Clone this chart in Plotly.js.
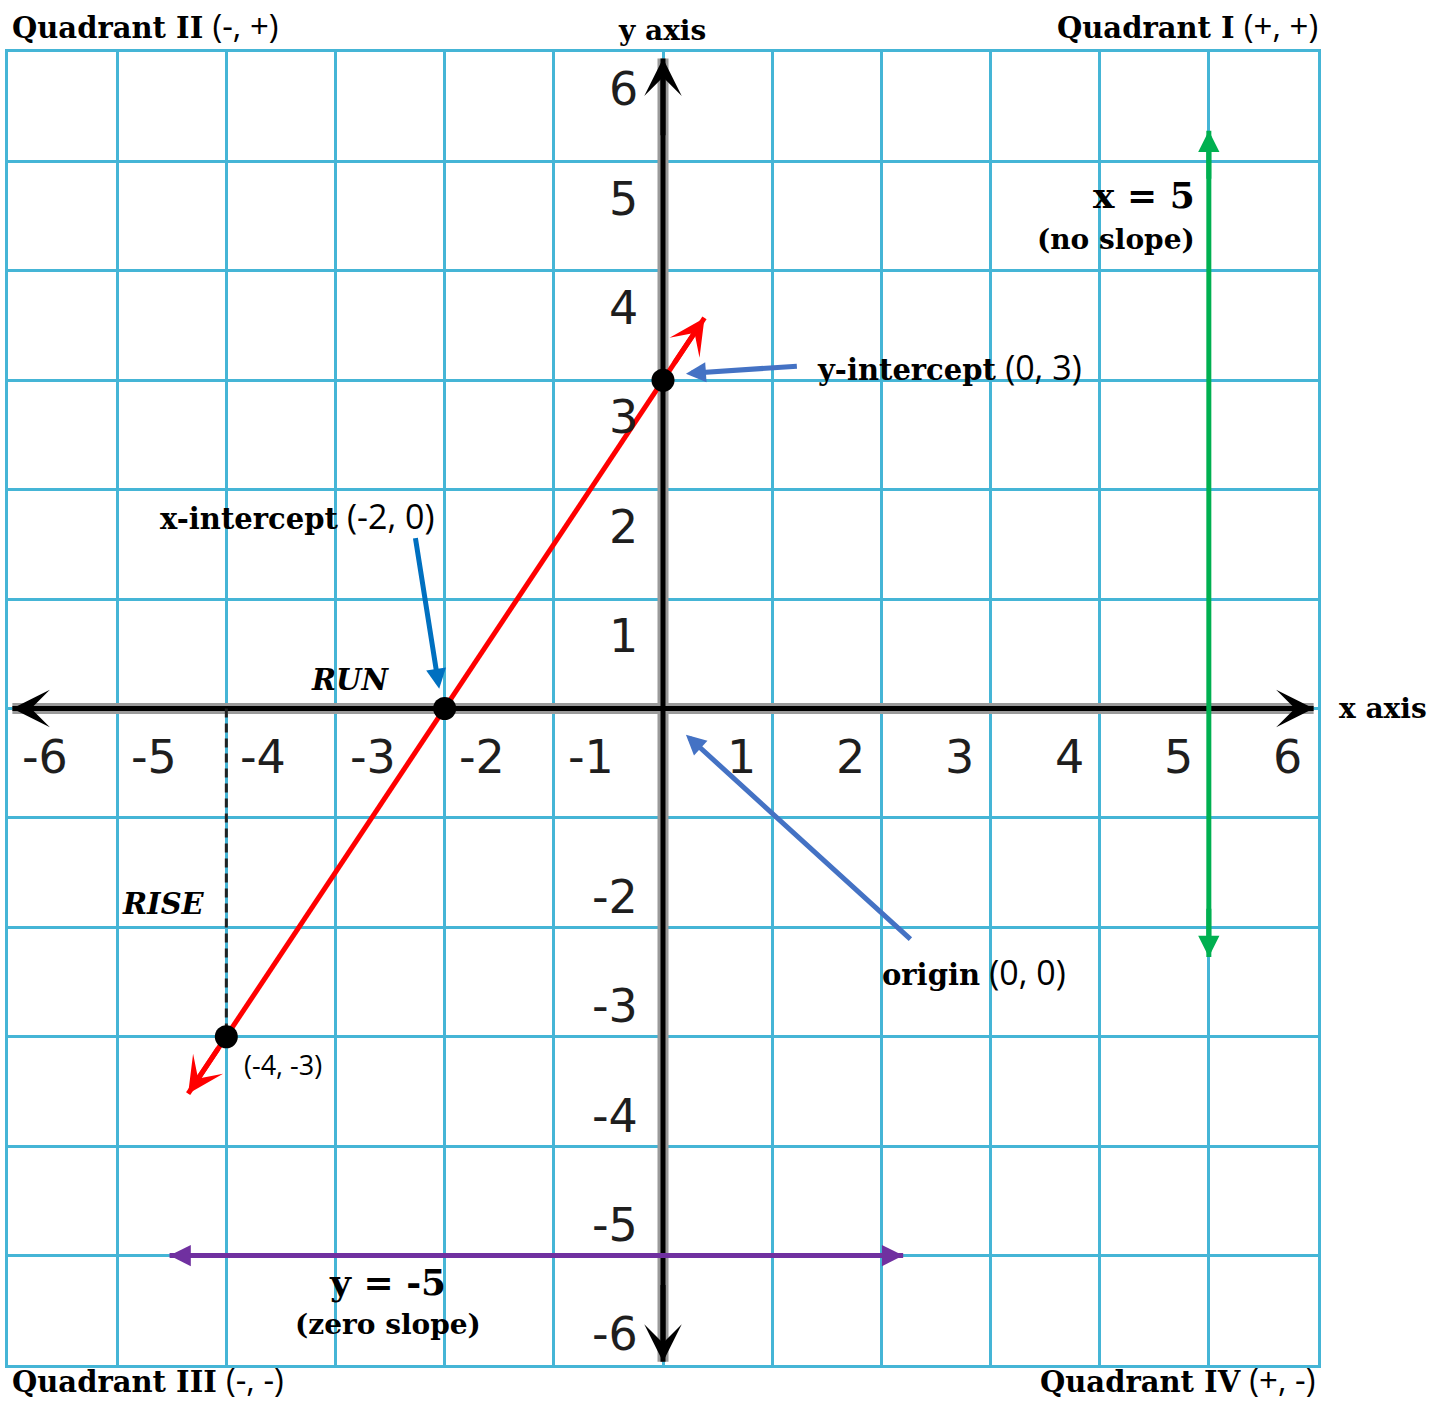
<!DOCTYPE html>
<html>
<head>
<meta charset="utf-8">
<script src="https://cdn.plot.ly/plotly-3.0.1.min.js"></script>
<style>body{margin:0;background:#fff}#chart{width:1430px;height:1403px}</style>
</head>
<body>
<div id="chart"></div>
<script>
// ---- data ----
const xTickVals = [-6, -5, -4, -3, -2, -1, 1, 2, 3, 4, 5, 6];
const xTickText = ['-6', '-5', '-4', '-3', '-2', '-1', '1', '2', '3', '4', '5', '6'];
const yTickVals = [6, 5, 4, 3, 2, 1, -2, -3, -4, -5, -6];
const yTickText = ['6', '5', '4', '3', '2', '1', '-2', '-3', '-4', '-5', '-6'];

const pointX = [0, -2, -4];
const pointY = [3, 0, -3];

const redX = [-4.35, 0.38];
const redY = [-3.52, 3.57];

const greenX = [5, 5];
const greenY = [-2.27, 5.28];

const purpleX = [-4.52, 2.2];
const purpleY = [-5, -5];

const dashX = [-4, -4];
const dashY = [0, -3];

const xAxisX = [-5.96, 5.96];
const xAxisY = [0, 0];
const yAxisX = [0, 0];
const yAxisY = [-5.97, 5.94];

// blue pointer arrows: [tailX, tailY, headX, headY]
const yIntArrow = [1.24, 3.13, 0.21, 3.06];
const xIntArrow = [-2.27, 1.57, -2.05, 0.18];
const originArrow = [2.28, -2.12, 0.21, -0.24];

// ---- styling ----
const serif = 'DejaVu Serif';
const sans = 'Open Sans';
const gridBlue = '#45b5d6';

function lineTrace(x, y, color, width, dash) {
  return {x: x, y: y, mode: 'lines', type: 'scatter', hoverinfo: 'skip',
          line: {color: color, width: width, dash: dash || 'solid'}};
}

const traces = [
  lineTrace(xAxisX, xAxisY, '#9a9a9a', 11),
  lineTrace(yAxisX, yAxisY, '#9a9a9a', 11),
  lineTrace(xAxisX, xAxisY, '#000', 5),
  lineTrace(yAxisX, yAxisY, '#000', 5),
  lineTrace(dashX, dashY, '#222', 3, '9px,6px'),
  lineTrace(greenX, greenY, '#00b050', 5),
  lineTrace(purpleX, purpleY, '#7030a0', 5),
  lineTrace(redX, redY, '#ff0000', 5),
  {x: pointX, y: pointY, mode: 'markers', type: 'scatter', hoverinfo: 'skip',
   marker: {color: '#000', size: 23}}
];

const ann = [];

// arrow heads at the ends of a segment
function heads(xs, ys, color, width, head, size) {
  const f = 0.06;
  [[1, 0], [0, 1]].forEach(function (p) {
    const e = p[0], s = p[1];
    ann.push({x: xs[e], y: ys[e], xref: 'x', yref: 'y', axref: 'x', ayref: 'y',
      ax: xs[e] - f * (xs[e] - xs[s]), ay: ys[e] - f * (ys[e] - ys[s]),
      text: '', showarrow: true, arrowhead: head, arrowsize: size,
      arrowwidth: width, arrowcolor: color});
  });
}
heads(xAxisX, xAxisY, '#000', 5, 3, 1.25);
heads(yAxisX, yAxisY, '#000', 5, 3, 1.25);
heads(redX, redY, '#ff0000', 5, 3, 1.2);
heads(greenX, greenY, '#00b050', 5, 2, 0.85);
heads(purpleX, purpleY, '#7030a0', 5, 2, 0.85);

function pointer(a, color) {
  ann.push({x: a[2], y: a[3], xref: 'x', yref: 'y', axref: 'x', ayref: 'y',
    ax: a[0], ay: a[1], text: '', showarrow: true, arrowhead: 2,
    arrowsize: 0.8, arrowwidth: 5, arrowcolor: color});
}
pointer(yIntArrow, '#4472c4');
pointer(xIntArrow, '#0070c0');
pointer(originArrow, '#4472c4');

// tick labels (placed in the cells like the reference)
xTickVals.forEach(function (v, i) {
  ann.push({x: v + (v < 0 ? 0.34 : -0.28), y: -0.44, xref: 'x', yref: 'y',
    text: xTickText[i], showarrow: false, xanchor: 'center', yanchor: 'middle',
    font: {family: 'DejaVu Sans', size: 46, color: '#1e1e1e'}});
});
yTickVals.forEach(function (v, i) {
  ann.push({x: -0.21, y: v + (v > 0 ? -0.34 : 0.28), xref: 'x', yref: 'y',
    text: yTickText[i], showarrow: false, xanchor: 'right', yanchor: 'middle',
    font: {family: 'DejaVu Sans', size: 46, color: '#1e1e1e'}});
});

function lbl(text, x, y, xanchor, size, ref, yanchor) {
  ann.push({x: x, y: y, xref: ref ? 'paper' : 'x', yref: ref ? 'paper' : 'y',
    text: text, showarrow: false, xanchor: xanchor, yanchor: yanchor || 'middle',
    font: {family: serif, size: size, color: '#000'}});
}
function mixed(b, n, nsize) {
  return '<b>' + b + '</b> <span style="font-family:Open Sans;font-weight:normal;font-size:' + nsize + 'px">' + n + '</span>';
}

lbl(mixed('Quadrant II', '(-, +)', 33), 0.0015, 1.039, 'left', 29, true, 'top');
lbl('<b>y axis</b>', 0.499, 1.016, 'center', 28, true);
lbl(mixed('Quadrant I', '(+, +)', 33), 1.0015, 1.039, 'right', 29, true, 'top');
lbl('<b>x axis</b>', 1.0145, 0.5, 'left', 28, true);
lbl(mixed('Quadrant III', '(-, -)', 33), 0.0015, -0.0295, 'left', 29, true, 'bottom');
lbl(mixed('Quadrant IV', '(+, -)', 33), 0.9992, -0.0295, 'right', 29, true, 'bottom');

lbl(mixed('y-intercept', '(0, 3)', 34), 1.39, 3.12, 'left', 29);
lbl(mixed('x-intercept', '(-2, 0)', 34), -4.63, 1.756, 'left', 29);
lbl(mixed('origin', '(0, 0)', 34), 1.99, -2.405, 'left', 29);
lbl('<b><i>RUN</i></b>', -2.87, 0.265, 'center', 29);
lbl('<b><i>RISE</i></b>', -4.58, -1.79, 'center', 29);
ann.push({x: -3.86, y: -3.256, xref: 'x', yref: 'y', text: '(-4, -3)', showarrow: false,
  xanchor: 'left', yanchor: 'middle', font: {family: sans, size: 27, color: '#000'}});
lbl('<b>x = 5</b>', 4.89, 4.69, 'right', 36);
lbl('<b>(no slope)</b>', 4.89, 4.29, 'right', 28);
lbl('<b>y = -5</b>', -2.52, -5.24, 'center', 36);
lbl('<b>(zero slope)</b>', -2.52, -5.63, 'center', 28);

const axisCommon = {
  range: [-6, 6], tick0: 0, dtick: 1, showgrid: true, gridcolor: gridBlue, gridwidth: 3,
  zeroline: false, showticklabels: false, ticks: '', showline: true, mirror: true,
  linecolor: gridBlue, linewidth: 3, fixedrange: true
};

const layout = {
  width: 1430, height: 1403,
  margin: {l: 8, r: 112, t: 52, b: 38},
  paper_bgcolor: '#fff', plot_bgcolor: '#fff',
  showlegend: false,
  xaxis: Object.assign({}, axisCommon),
  yaxis: Object.assign({}, axisCommon),
  annotations: ann
};

Plotly.newPlot('chart', traces, layout, {displayModeBar: false, staticPlot: true});
</script>
</body>
</html>
